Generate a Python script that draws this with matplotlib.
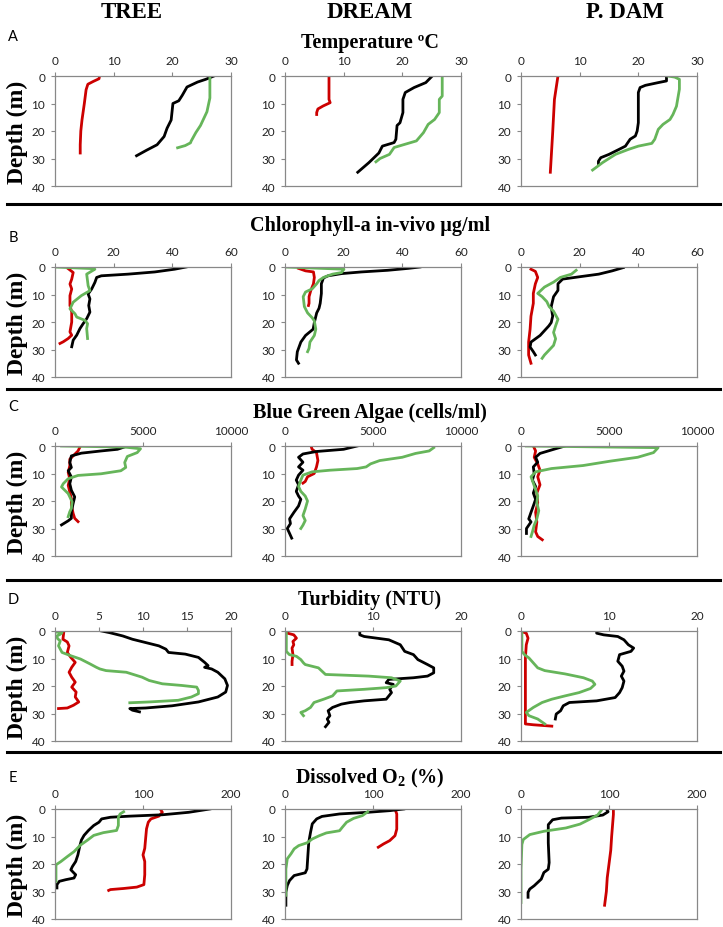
import matplotlib
matplotlib.use('Agg')
import matplotlib.pyplot as plt
from matplotlib.lines import Line2D

plt.rcParams['mathtext.fontset'] = 'custom'
plt.rcParams['mathtext.rm'] = 'Liberation Serif:bold'
plt.rcParams['mathtext.it'] = 'Liberation Serif:bold'
plt.rcParams['mathtext.bf'] = 'Liberation Serif:bold'

# ---- labels ----
sites = ['TREE', 'DREAM', 'P. DAM']
letters = ['A', 'B', 'C', 'D', 'E']
titles = ['Temperature ºC', 'Chlorophyll-a in-vivo µg/ml', 'Blue Green Algae (cells/ml)',
          'Turbidity (NTU)', r'Dissolved O$_2$ (%)']
xmax = [30, 60, 10000, 20, 200]
xticks = [[0, 10, 20, 30], [0, 20, 40, 60], [0, 5000, 10000], [0, 10, 20], [0, 100, 200]]
xticks_tree_turb = [0, 5, 10, 15, 20]
depth_ticks = [0, 10, 20, 30, 40]

# ---- A: temperature ----
tree_temp_red = [7.6, 7.5, 6.5, 5.6, 5.3, 5.0, 4.8, 4.6, 4.4, 4.3, 4.3]
tree_temp_red_d = [0, 1, 2, 3, 5, 10, 13, 16, 20, 25, 28]
tree_temp_blk = [27.1, 25.7, 24.3, 22.5, 21.7, 21.1, 20.1, 19.8, 19.1, 18.6, 17.4, 15.6, 13.9]
tree_temp_blk_d = [0, 1.2, 2.2, 4, 7, 9, 10, 16, 19, 22, 25, 27, 29]
tree_temp_grn = [26.4, 26.4, 25.9, 24.8, 24.0, 23.2, 23.1, 22.2, 20.9]
tree_temp_grn_d = [0, 8, 13, 18, 20.6, 23.7, 24.3, 25.3, 26.1]

dream_temp_red = [7.5, 7.5, 7.7, 6.5, 5.6, 5.4, 5.4]
dream_temp_red_d = [0, 8.5, 9.7, 10.9, 12, 13.3, 14]
dream_temp_blk = [25.1, 24, 22, 20.5, 20.1, 20.1, 19.6, 19.1, 18.9, 18.6, 16.6, 16, 14.3, 12.4]
dream_temp_blk_d = [0, 2.4, 4.2, 6, 8.5, 13.3, 17, 18, 23, 24.2, 25.5, 28, 31.5, 35]
dream_temp_grn = [26.8, 26.8, 26.3, 26.3, 25.5, 24.4, 23.6, 22.4, 20.5, 18.6, 17.8, 16.2, 15.5]
dream_temp_grn_d = [0, 7.3, 8.5, 13.3, 15.8, 17.6, 20.6, 23.6, 24.8, 26, 28.5, 30, 31.2]

pdam_temp_red = [6.3, 5.7, 5.4, 5.0]
pdam_temp_red_d = [0, 8.5, 20.6, 35]
pdam_temp_blk = [24.8, 24.8, 23.4, 21.2, 20.3, 20, 20, 19.8, 19.5, 18.6, 17.8, 16.7, 15, 13.6, 13.2, 13.2]
pdam_temp_blk_d = [0, 1.8, 2.4, 3.4, 4.2, 6, 17, 20, 21.8, 23, 25.5, 26.7, 28.5, 29.7, 31, 31.8]
pdam_temp_grn = [25, 26.2, 27, 27, 26.5, 25.9, 25.4, 24.2, 23.4, 22.8, 22.3, 20, 18.3, 16.1, 13.9, 12.2]
pdam_temp_grn_d = [0, 0.4, 1.2, 4.8, 11, 14, 15.8, 17.6, 19.4, 23, 24.5, 25.5, 26.7, 28.5, 31.5, 34.2]

# ---- B: chlorophyll ----
tree_chl_red = [4.5, 6.2, 5.7, 5.1, 5.7, 5.1, 5.1, 5.7, 5.7, 5.1, 5.7, 4.5, 2.8, 1.7]
tree_chl_red_d = [0.6, 2, 4.4, 6.2, 8, 10.4, 14, 16.4, 20, 23.6, 24.8, 26, 27.2, 27.8]
tree_chl_blk = [44.7, 40.8, 34, 24.9, 15.8, 14.2, 13.6, 12.5, 11.3, 11.9, 11.5, 11.9, 10.8, 9.6, 8.5, 7.4, 6.2, 5.7]
tree_chl_blk_d = [0, 0.8, 1.8, 2.6, 3.2, 3.8, 5.6, 8, 9.8, 11.6, 14, 16.4, 18.8, 20.6, 22.4, 24.8, 26.6, 29]
tree_chl_grn = [0, 13, 13.6, 10.8, 11.3, 11.9, 9, 6.2, 5.1, 6.8, 7.4, 10.2, 11.1, 10.8, 11.1]
tree_chl_grn_d = [0, 0.6, 0.8, 2.6, 6.8, 8.6, 10.4, 12.8, 15.2, 17, 18.2, 19.4, 20.6, 22.4, 26]

dream_chl_red = [4.6, 7, 9.7, 10, 9.7, 8.8, 8.2, 8.2, 8]
dream_chl_red_d = [0.5, 1.4, 1.8, 3.8, 6.1, 8.5, 10.8, 13.2, 14]
dream_chl_blk = [46, 42, 35, 26, 19.3, 14.7, 13.1, 12.4, 12.4, 12, 11.6, 10.8, 10, 9.6, 7, 5.4, 4.2, 3.9, 4.6]
dream_chl_blk_d = [0, 0.5, 1.2, 1.8, 2.4, 3.2, 4, 6.1, 9.6, 13.2, 15, 16.7, 20.2, 22.6, 24.9, 27.3, 30.8, 33.8, 35]
dream_chl_grn = [0, 20.1, 19.3, 16.2, 13.1, 11.6, 10.8, 9.3, 7, 6.2, 6.6, 7.7, 9.3, 10, 10.5, 10, 8.5, 8.2, 7.7]
dream_chl_grn_d = [0, 0.8, 2, 2.6, 3.8, 4.9, 6.1, 7.9, 9.1, 10.8, 14.4, 16.7, 18.5, 19.6, 22.6, 24.9, 27.3, 29.6, 30.8]

pdam_chl_red = [3.4, 4.9, 5.7, 4.9, 4.2, 4.2, 3.4, 3.1, 2.6, 2.6, 3.4]
pdam_chl_red_d = [0.8, 1.6, 3.8, 6.1, 9.6, 13.2, 17.9, 22.6, 27.3, 32, 35]
pdam_chl_blk = [34.9, 31.1, 26.5, 20.3, 14.2, 12.6, 12.6, 11.1, 10.3, 10.8, 10.3, 9.5, 6.5, 3.4, 3.1, 4.2, 4.9]
pdam_chl_blk_d = [0.2, 1.4, 2.6, 3.5, 4.4, 6.1, 8.5, 10.8, 14.4, 17.9, 20.2, 21.4, 24.9, 27.3, 29.1, 30.8, 32]
pdam_chl_grn = [18.8, 17.2, 13.4, 11.1, 8, 5.7, 7.2, 8.8, 9.6, 11.1, 12.6, 11.8, 11.1, 11.8, 11.1, 9.6, 8, 7.2]
pdam_chl_grn_d = [1.2, 2.6, 3.8, 5.5, 7.3, 9.6, 10.8, 12.6, 14.4, 16.1, 19, 21.4, 23.8, 26.1, 28.5, 30.2, 32, 33.2]

# ---- C: blue green algae ----
tree_bga_red = [1400, 1310, 1030, 840, 840, 750, 840, 750, 840, 930, 930, 1030, 1120, 1310]
tree_bga_red_d = [0.6, 1.8, 3.6, 4.8, 7.2, 9.6, 11.9, 14.3, 16.7, 19.1, 21.5, 24.5, 26.3, 27.5]
tree_bga_blk = [4110, 3550, 2620, 1500, 930, 840, 930, 750, 930, 840, 930, 1120, 1030, 930, 930, 750, 370]
tree_bga_blk_d = [0, 1.2, 1.8, 2.6, 3.6, 6, 7.8, 9, 11.3, 13.7, 16.1, 18.5, 20.9, 23.9, 26.3, 27.2, 28.7]
tree_bga_grn = [370, 3960, 4860, 4670, 4110, 3960, 4020, 3740, 2620, 1310, 750, 470, 370, 560, 750, 840, 970, 930, 840, 750]
tree_bga_grn_d = [0, 0.4, 1, 2.4, 3.8, 6, 7.8, 9, 10.1, 10.7, 11.9, 13.7, 14.9, 16.1, 17.3, 18.5, 20.3, 22.7, 23.9, 25.7]

dream_bga_red = [1480, 1540, 1790, 1870, 1790, 1660, 1280, 1150, 1020]
dream_bga_red_d = [0, 1.2, 2.4, 5.3, 7.6, 10, 11.2, 12.9, 13.5]
dream_bga_blk = [4100, 3330, 1790, 1020, 770, 1020, 770, 1020, 770, 640, 770, 640, 770, 900, 770, 510, 260, 310, 130, 260, 380]
dream_bga_blk_d = [0, 1.2, 2, 2.9, 4.1, 5.9, 7.6, 8.8, 10.6, 12.4, 14.1, 16.5, 18.2, 19.4, 21.8, 24.1, 26.5, 28.2, 30, 31.8, 33.5]
dream_bga_grn = [8450, 8190, 7420, 6660, 5380, 4860, 4610, 4100, 2560, 1540, 1020, 900, 770, 900, 1150, 1280, 1150, 1020, 1150, 1020, 900]
dream_bga_grn_d = [0.6, 1.8, 2.7, 4.1, 5.3, 6.5, 7.6, 8.2, 8.8, 9.4, 10.6, 12.4, 14.7, 16.5, 18.2, 20, 22.9, 25.3, 27.1, 28.8, 30]

pdam_bga_red = [700, 830, 750, 950, 1080, 950, 1080, 900, 950, 830, 900, 830, 950, 1210]
pdam_bga_red_d = [0, 1.8, 4.1, 6.5, 8.8, 11.2, 14.1, 17.1, 20.6, 24.1, 27.6, 31.2, 32.9, 34.1]
pdam_bga_blk = [2500, 1860, 1080, 830, 950, 700, 750, 650, 830, 700, 830, 700, 570, 440, 570, 310, 310]
pdam_bga_blk_d = [0, 1.2, 2.7, 4.1, 5.9, 7.6, 10, 12.4, 14.7, 17.1, 19.4, 21.8, 24.1, 26.5, 27.6, 30, 31.8]
pdam_bga_grn = [300, 7790, 7530, 6630, 5080, 3530, 1730, 830, 570, 700, 830, 950, 900, 1010, 900, 750, 650, 570]
pdam_bga_grn_d = [0, 0.6, 2.4, 4.1, 5.5, 7.1, 8.2, 9.4, 11.2, 13.5, 15.9, 18.2, 20.6, 23.5, 26.5, 28.8, 31.2, 32.9]

# ---- D: turbidity ----
tree_turb_red = [1.0, 0.9, 1.4, 1.6, 1.4, 1.8, 2.3, 1.9, 1.6, 1.9, 2.3, 1.9, 2.4, 2.3, 2.7, 2.1, 1.4, 0.4]
tree_turb_red_d = [0.4, 3, 4, 5.4, 7.8, 9.6, 11.4, 13.2, 15, 16.8, 18.6, 20.4, 22.2, 24, 25.8, 27, 28, 28.2]
tree_turb_blk = [5.3, 6.2, 7.7, 8.8, 10.3, 11.8, 12.6, 12.9, 14.8, 16.3, 17, 17.4, 17, 17.8, 18.5, 19.3, 19.6,
                 19.4, 18.5, 16.3, 13.3, 10.3, 8.5, 8.8, 9.6]
tree_turb_blk_d = [0, 0.6, 1.8, 3, 4.2, 5.4, 6.6, 7.8, 8.4, 9.6, 11.4, 12.6, 13.2, 13.8, 15, 17.4, 19.8,
                   22.2, 24, 25.8, 27.2, 28, 28.2, 28.8, 29.4]
tree_turb_grn = [0.1, 0.8, 0.6, 0.2, 0.3, 0.6, 0.4, 0.6, 0.8, 1.8, 2.9, 4, 4.7, 5.1, 5.8, 8.1, 9.9, 10.7, 12.2,
                 14.4, 16.1, 16.3, 16.3, 15.5, 14, 10.7, 8.5]
tree_turb_grn_d = [0.4, 0.6, 1.2, 1.8, 2.8, 3.6, 5.4, 6.6, 7.8, 9, 10.2, 12, 13.2, 13.8, 14.4, 15, 16.8, 18, 19.2,
                   19.8, 20.4, 21.6, 22.8, 24, 25.2, 25.8, 26.1]

dream_turb_red = [0.3, 1, 1.3, 0.9, 1, 0.8, 0.9, 0.8, 0.8]
dream_turb_red_d = [0.8, 1.4, 2.6, 3.8, 5, 6.2, 8.6, 11, 12.2]
dream_turb_blk = [8.5, 8.5, 9, 11.8, 13.1, 13.6, 14.6, 15.1, 16.2, 16.9, 16.9, 16.2, 14.6, 11.8, 11.5, 12.3, 11.9,
                  12.1, 11.8, 11.5, 9, 7.4, 6.4, 5.4, 4.9, 5.1, 4.8, 5, 4.6]
dream_turb_blk_d = [0, 1.4, 2, 3.2, 5, 7.4, 8.6, 10.4, 12.2, 13.4, 15.2, 16.4, 17, 17.6, 18.8, 19.4, 21.2,
                    22.4, 23.6, 24.8, 25.4, 26, 26.6, 27.8, 29, 30.8, 32, 33.2, 34.8]
dream_turb_grn = [0.15, 0.15, 0.5, 1.3, 1.8, 2.1, 2.3, 3.8, 4.4, 4.6, 9.5, 12.1, 13.1, 12.6, 11.5, 9, 5.9, 5.4,
                  4.4, 3.3, 2.9, 2.3, 1.8, 2.1]
dream_turb_grn_d = [0, 7.4, 8.6, 9.2, 10.4, 11.6, 12.2, 13.4, 15.2, 15.8, 16.4, 17, 18.2, 20, 20.6, 21.2, 21.8,
                    23.6, 24.8, 26, 27.8, 29, 29.6, 30.8]

pdam_turb_red = [0.1, 0.6, 0.8, 0.6, 0.5, 0.5, 0.5, 0.5, 0.5, 0.5, 1.4, 3.5]
pdam_turb_red_d = [0.2, 0.8, 2.6, 5, 9.8, 14.6, 19.4, 24.2, 29, 33.8, 34.1, 34.6]
pdam_turb_blk = [8.6, 8.6, 9.4, 11, 11.7, 12.2, 12.8, 12.5, 11.2, 11, 11.5, 11.7, 11.4, 11.7, 11.5, 11.2, 10.7,
                 8.6, 5.5, 4.8, 4.5, 4, 3.9]
pdam_turb_blk_d = [0, 0.8, 1.4, 2, 3.2, 5, 6.2, 7.4, 8.6, 11, 12.8, 14.6, 16.4, 18.2, 20.6, 22.4, 24.2,
                   25.4, 26, 27.2, 29, 30.2, 32]
pdam_turb_grn = [0.1, 0.1, 0.4, 0.9, 1.4, 1.9, 2.7, 5, 7.1, 8.1, 8.4, 7.9, 6.6, 5, 3.5, 2.4, 1.4, 0.6, 0.9, 1.9, 2.7]
pdam_turb_grn_d = [0, 7.4, 8.6, 9.8, 11.6, 13.4, 14.4, 15.6, 17, 18.2, 19.4, 20.9, 22.4, 23.6, 24.8, 26, 27.8,
                   29.6, 30.8, 32, 33.8]

# ---- E: dissolved oxygen ----
tree_o2_red = [120, 122, 118, 109, 106, 104, 103, 102, 100, 102, 102, 101, 93, 78, 63, 61]
tree_o2_red_d = [0.2, 1.2, 2.6, 3.6, 4.8, 7.2, 10.7, 14.3, 16.7, 19.1, 23.9, 27.5, 28.4, 28.9, 29.3, 29.6]
tree_o2_blk = [176, 152, 122, 85, 63, 53, 50, 44, 38, 33, 30, 28, 26, 23.5, 19.8, 18, 21.6, 23.5, 21.6, 12.3, 4.9, 2.2, 2.2]
tree_o2_blk_d = [0, 1.2, 2.1, 2.6, 3, 3.6, 4.8, 6, 7.8, 9.6, 11.3, 13.7, 16.7, 19.1, 20.9, 22.1, 23.3, 23.9, 25.1,
                 25.7, 26.3, 27.5, 28.7]
tree_o2_grn = [78, 74, 72, 72, 70, 55, 44, 37, 29, 21.6, 14, 6.7, 1.1, 1.1, 1.1]
tree_o2_grn_d = [1, 1.8, 3, 6, 7.8, 8.6, 9.6, 11.3, 13.1, 15.5, 17.3, 19.1, 20.3, 25.1, 26.3]

dream_o2_red = [125, 127, 127, 125, 119, 112, 106]
dream_o2_red_d = [0, 1.8, 7.3, 9.7, 11.5, 12.7, 13.9]
dream_o2_blk = [135, 119, 94, 62, 42, 36, 31, 29, 27, 26, 25, 23, 10.4, 5.2, 2.6, 1, 1]
dream_o2_blk_d = [0, 0.6, 1.2, 1.8, 2.7, 3.6, 5.4, 8.5, 12.1, 16.9, 21.8, 23.2, 24.2, 26, 27.8, 30.2, 35]
dream_o2_grn = [94, 88, 78, 70, 65, 62, 47, 39, 31, 25, 15.6, 10.4, 6.8, 2.6, 1, 1, 1]
dream_o2_grn_d = [1, 2.4, 3.4, 4.8, 6.7, 7.9, 8.7, 9.7, 10.9, 12.3, 13.3, 14.5, 16.3, 18.1, 21.8, 29, 31.4]

pdam_o2_red = [105, 105, 104, 103, 102, 100, 98, 97, 95]
pdam_o2_red_d = [0, 2, 6, 10, 15, 20, 25, 30, 35]
pdam_o2_blk = [97, 99, 93, 77, 46, 36, 31, 31, 32, 31, 26, 23, 15, 10, 8, 8]
pdam_o2_blk_d = [0, 1, 2.2, 3, 3.3, 3.9, 5.7, 12.3, 19.5, 21.9, 23.1, 25.5, 27.9, 29.1, 30.3, 32.1]
pdam_o2_grn = [91, 87, 77, 67, 51, 26, 10, 2.6, 1, 0, 0]
pdam_o2_grn_d = [0.6, 2.2, 3.9, 5.5, 6.9, 8.1, 9.3, 11.1, 12.9, 21.9, 34]

# rows x columns, each panel: (red, black, green) as (values, depths)
panels = [
    [[(tree_temp_red, tree_temp_red_d), (tree_temp_blk, tree_temp_blk_d), (tree_temp_grn, tree_temp_grn_d)],
     [(dream_temp_red, dream_temp_red_d), (dream_temp_blk, dream_temp_blk_d), (dream_temp_grn, dream_temp_grn_d)],
     [(pdam_temp_red, pdam_temp_red_d), (pdam_temp_blk, pdam_temp_blk_d), (pdam_temp_grn, pdam_temp_grn_d)]],
    [[(tree_chl_red, tree_chl_red_d), (tree_chl_blk, tree_chl_blk_d), (tree_chl_grn, tree_chl_grn_d)],
     [(dream_chl_red, dream_chl_red_d), (dream_chl_blk, dream_chl_blk_d), (dream_chl_grn, dream_chl_grn_d)],
     [(pdam_chl_red, pdam_chl_red_d), (pdam_chl_blk, pdam_chl_blk_d), (pdam_chl_grn, pdam_chl_grn_d)]],
    [[(tree_bga_red, tree_bga_red_d), (tree_bga_blk, tree_bga_blk_d), (tree_bga_grn, tree_bga_grn_d)],
     [(dream_bga_red, dream_bga_red_d), (dream_bga_blk, dream_bga_blk_d), (dream_bga_grn, dream_bga_grn_d)],
     [(pdam_bga_red, pdam_bga_red_d), (pdam_bga_blk, pdam_bga_blk_d), (pdam_bga_grn, pdam_bga_grn_d)]],
    [[(tree_turb_red, tree_turb_red_d), (tree_turb_blk, tree_turb_blk_d), (tree_turb_grn, tree_turb_grn_d)],
     [(dream_turb_red, dream_turb_red_d), (dream_turb_blk, dream_turb_blk_d), (dream_turb_grn, dream_turb_grn_d)],
     [(pdam_turb_red, pdam_turb_red_d), (pdam_turb_blk, pdam_turb_blk_d), (pdam_turb_grn, pdam_turb_grn_d)]],
    [[(tree_o2_red, tree_o2_red_d), (tree_o2_blk, tree_o2_blk_d), (tree_o2_grn, tree_o2_grn_d)],
     [(dream_o2_red, dream_o2_red_d), (dream_o2_blk, dream_o2_blk_d), (dream_o2_grn, dream_o2_grn_d)],
     [(pdam_o2_red, pdam_o2_red_d), (pdam_o2_blk, pdam_o2_blk_d), (pdam_o2_grn, pdam_o2_grn_d)]],
]

colors = ['#CC0000', '#000000', '#66B55A']

W, H = 723, 928
fig = plt.figure(figsize=(W / 100, H / 100), dpi=100)

def fx(px):
    return px / W

def fy(py):
    return 1 - py / H

col_left = [55, 285, 521]
row_top = [77, 268, 447, 632, 810]
ax_w, ax_h = 176, 110
site_x = [132, 370, 625]
title_y = [43, 226, 413, 600, 778]
letter_y = [37, 238, 407, 600, 778]
sep_y = [205, 390, 581, 753]

serif = 'Liberation Serif'
sans = 'Lato'

for c, s in enumerate(sites):
    fig.text(fx(site_x[c]), fy(13), s, ha='center', va='center',
             fontsize=16.5, fontweight='bold', family=serif)

for r in range(5):
    fig.text(fx(370), fy(title_y[r]), titles[r], ha='center', va='center',
             fontsize=14.5, fontweight='bold', family=serif)
    fig.text(fx(13), fy(letter_y[r]), letters[r], ha='center', va='center',
             fontsize=10.5, family=sans)
    for c in range(3):
        ax = fig.add_axes([fx(col_left[c]), fy(row_top[r] + ax_h), fx(ax_w), ax_h / H])
        for (vals, deps), col in zip(panels[r][c], colors):
            ax.plot(vals, deps, color=col, lw=2.0, solid_joinstyle='round')
        ax.set_xlim(0, xmax[r])
        ax.set_ylim(40, 0)
        ticks = xticks_tree_turb if (r == 3 and c == 0) else xticks[r]
        ax.set_xticks(ticks)
        ax.set_yticks(depth_ticks)
        ax.xaxis.tick_top()
        ax.tick_params(direction='out', length=3, width=0.8, color='#888888',
                       labelsize=8.5, labelcolor='#222222', pad=4)
        for lab in ax.get_xticklabels() + ax.get_yticklabels():
            lab.set_family(sans)
        for sp in ax.spines.values():
            sp.set_color('#888888')
            sp.set_linewidth(0.9)
        if c == 0:
            fig.text(fx(17), fy(row_top[r] + ax_h / 2), 'Depth (m)', rotation=90,
                     ha='center', va='center', fontsize=17, fontweight='bold', family=serif)

for y in sep_y:
    fig.add_artist(Line2D([fx(7), fx(720)], [fy(y), fy(y)], color='black', lw=2.2))

fig.savefig('out.png', dpi=100)
